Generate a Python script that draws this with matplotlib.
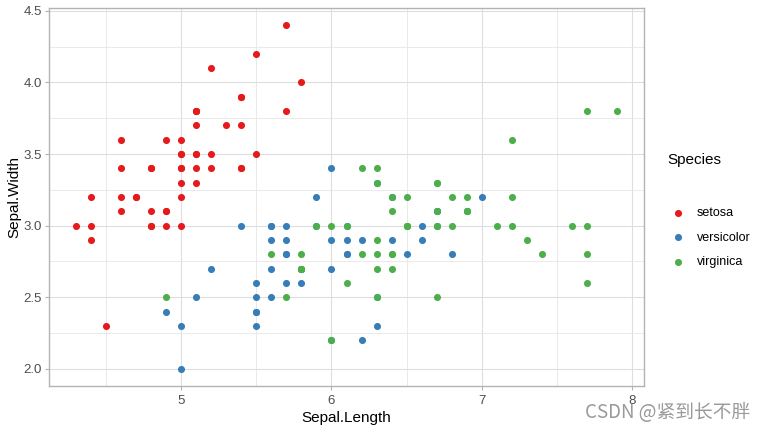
import matplotlib
matplotlib.use("Agg")
import matplotlib.pyplot as plt
from matplotlib.ticker import MultipleLocator, FixedLocator

species_names = ["setosa", "versicolor", "virginica"]
colors = ["#E41A1C", "#377EB8", "#4DAF4A"]

setosa_len = [5.1,4.9,4.7,4.6,5.0,5.4,4.6,5.0,4.4,4.9,5.4,4.8,4.8,4.3,5.8,5.7,5.4,5.1,5.7,5.1,
              5.4,5.1,4.6,5.1,4.8,5.0,5.0,5.2,5.2,4.7,4.8,5.4,5.2,5.5,4.9,5.0,5.5,4.9,4.4,5.1,
              5.0,4.5,4.4,5.0,5.1,4.8,5.1,4.6,5.3,5.0]
setosa_wid = [3.5,3.0,3.2,3.1,3.6,3.9,3.4,3.4,2.9,3.1,3.7,3.4,3.0,3.0,4.0,4.4,3.9,3.5,3.8,3.8,
              3.4,3.7,3.6,3.3,3.4,3.0,3.4,3.5,3.4,3.2,3.1,3.4,4.1,4.2,3.1,3.2,3.5,3.6,3.0,3.4,
              3.5,2.3,3.2,3.5,3.8,3.0,3.8,3.2,3.7,3.3]
versicolor_len = [7.0,6.4,6.9,5.5,6.5,5.7,6.3,4.9,6.6,5.2,5.0,5.9,6.0,6.1,5.6,6.7,5.6,5.8,6.2,5.6,
                  5.9,6.1,6.3,6.1,6.4,6.6,6.8,6.7,6.0,5.7,5.5,5.5,5.8,6.0,5.4,6.0,6.7,6.3,5.6,5.5,
                  5.5,6.1,5.8,5.0,5.6,5.7,5.7,6.2,5.1,5.7]
versicolor_wid = [3.2,3.2,3.1,2.3,2.8,2.8,3.3,2.4,2.9,2.7,2.0,3.0,2.2,2.9,2.9,3.1,3.0,2.7,2.2,2.5,
                  3.2,2.8,2.5,2.8,2.9,3.0,2.8,3.0,2.9,2.6,2.4,2.4,2.7,2.7,3.0,3.4,3.1,2.3,3.0,2.5,
                  2.6,3.0,2.6,2.3,2.7,3.0,2.9,2.9,2.5,2.8]
virginica_len = [6.3,5.8,7.1,6.3,6.5,7.6,4.9,7.3,6.7,7.2,6.5,6.4,6.8,5.7,5.8,6.4,6.5,7.7,7.7,6.0,
                 6.9,5.6,7.7,6.3,6.7,7.2,6.2,6.1,6.4,7.2,7.4,7.9,6.4,6.3,6.1,7.7,6.3,6.4,6.0,6.9,
                 6.7,6.9,5.8,6.8,6.7,6.7,6.3,6.5,6.2,5.9]
virginica_wid = [3.3,2.7,3.0,2.9,3.0,3.0,2.5,2.9,2.5,3.6,3.2,2.7,3.0,2.5,2.8,3.2,3.0,3.8,2.6,2.2,
                 3.2,2.8,2.8,2.7,3.3,3.2,2.8,3.0,2.8,3.0,2.8,3.8,2.8,2.8,2.6,3.0,3.4,3.1,3.0,3.1,
                 3.1,3.1,2.7,3.2,3.3,3.0,2.5,3.0,3.4,3.0]

x_ticks = [5, 6, 7, 8]
y_ticks = [2.0, 2.5, 3.0, 3.5, 4.0, 4.5]

plt.rcParams['font.family'] = ['Liberation Sans', 'Noto Sans CJK SC', 'DejaVu Sans']

fig = plt.figure(figsize=(7.65, 4.3), dpi=100)
ax = fig.add_axes([49/765, 1-386/430, (644-49)/765, (386-8)/430])

data = [(setosa_len, setosa_wid), (versicolor_len, versicolor_wid), (virginica_len, virginica_wid)]
for name, col, (xs, ys) in zip(species_names, colors, data):
    ax.scatter(xs, ys, s=26, color=col, label=name, linewidths=0, zorder=3)

xmin, xmax = 4.3, 7.9
ymin, ymax = 2.0, 4.4
ax.set_xlim(xmin - 0.05*(xmax-xmin), xmax + 0.05*(xmax-xmin))
ax.set_ylim(ymin - 0.05*(ymax-ymin), ymax + 0.05*(ymax-ymin))

ax.xaxis.set_major_locator(FixedLocator(x_ticks))
ax.yaxis.set_major_locator(FixedLocator(y_ticks))
ax.xaxis.set_minor_locator(MultipleLocator(0.5))
ax.yaxis.set_minor_locator(MultipleLocator(0.25))
ax.set_xticklabels([str(v) for v in x_ticks])
ax.set_yticklabels([f"{v:.1f}" for v in y_ticks])

ax.grid(True, which='major', color='#DEDEDE', linewidth=0.8, zorder=0)
ax.grid(True, which='minor', color='#E6E6E6', linewidth=0.6, zorder=0)
ax.set_axisbelow(True)
for sp in ax.spines.values():
    sp.set_color('#B3B3B3')
    sp.set_linewidth(1.0)
ax.tick_params(which='major', length=3.2, color='#B3B3B3', labelsize=9.5, labelcolor='#4D4D4D',
               width=0.8)
ax.tick_params(axis='y', which='major', pad=1.8)
ax.tick_params(axis='x', which='major', pad=3)
ax.tick_params(which='minor', length=0)

ax.set_xlabel("Sepal.Length", fontsize=11, labelpad=3)
ax.set_ylabel("Sepal.Width", fontsize=11, labelpad=2)

leg = ax.legend(loc='upper left', bbox_to_anchor=(670/765, 1-207/430), bbox_transform=fig.transFigure,
                frameon=False, fontsize=9, handletextpad=0.95, handlelength=1.2,
                labelspacing=1.0, markerscale=1.0, borderaxespad=0, borderpad=0)
fig.text(667/765, 1-160/430, "Species", ha='left', va='center', fontsize=11)

fig.text(750/765, 1-413/430, "CSDN @紧到长不胖", ha='right', va='center', fontsize=13.5,
         color='#9A9A9A', family=['Noto Sans CJK SC', 'DejaVu Sans'])

fig.savefig("out.png", dpi=100)
